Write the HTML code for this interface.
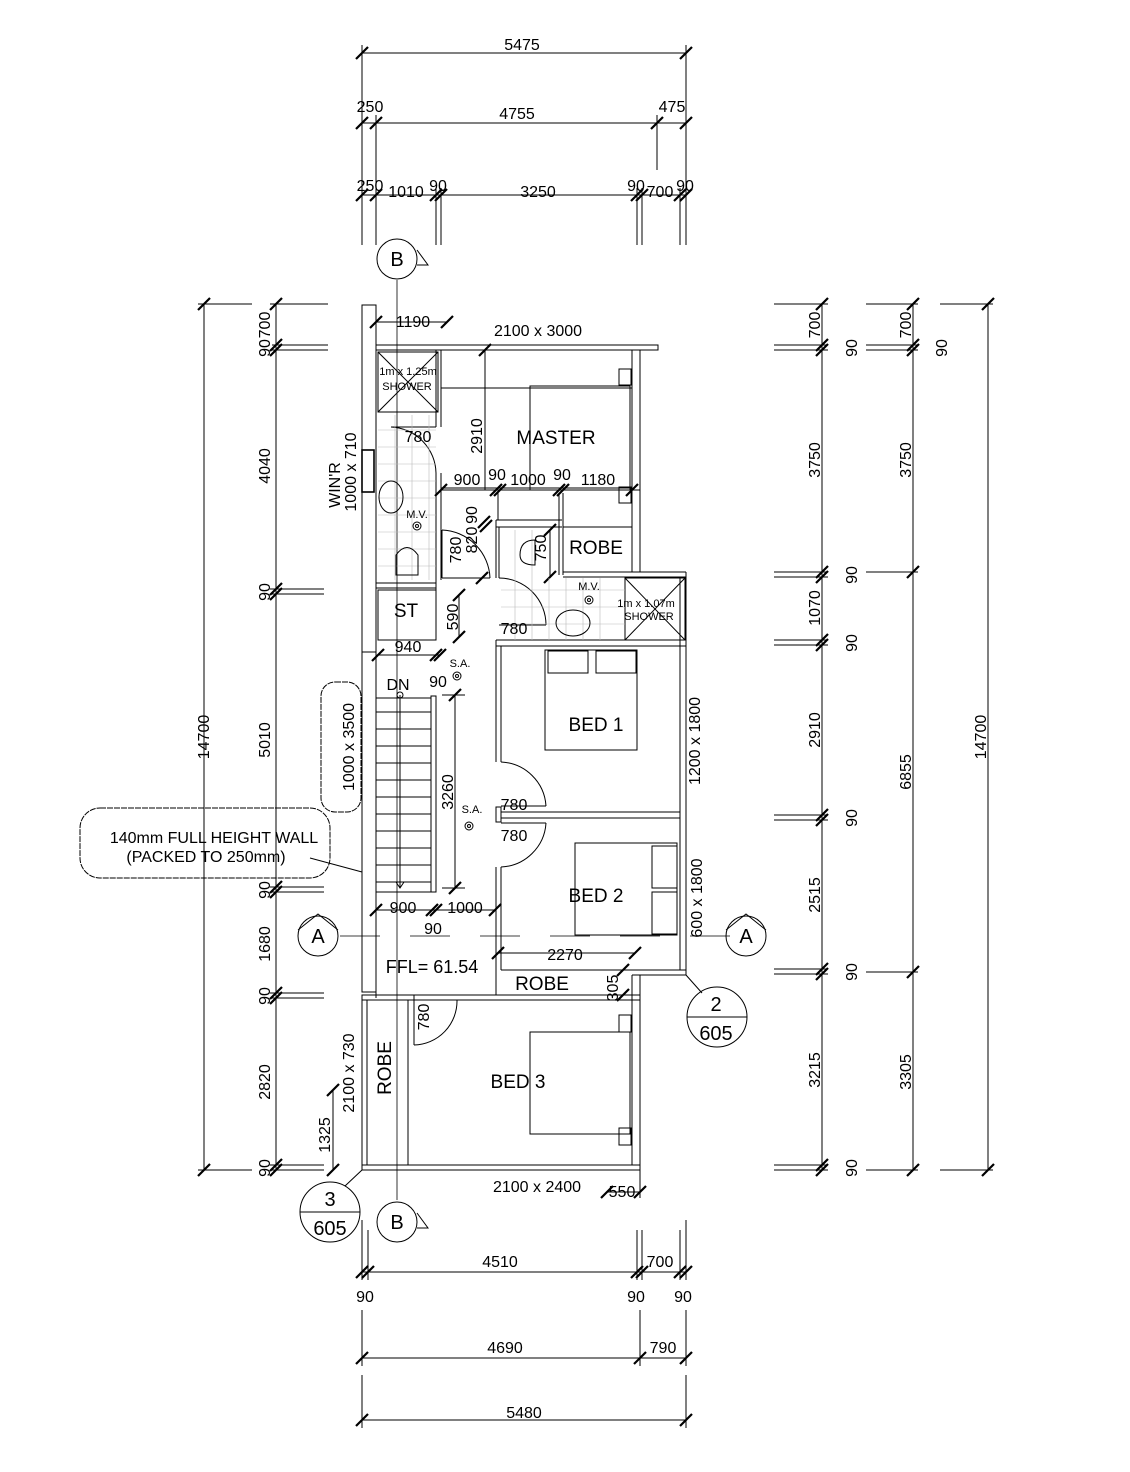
<!DOCTYPE html><html><head><meta charset="utf-8"><style>body{margin:0;background:#fff}svg{display:block}text{font-family:"Liberation Sans",sans-serif;fill:#000}</style></head><body>
<svg width="1130" height="1472" viewBox="0 0 1130 1472" xmlns="http://www.w3.org/2000/svg">
<defs><path id="t" d="M-6,6 L6,-6" stroke="#000" stroke-width="2.2"/></defs>
<g stroke="#000" stroke-width="1" fill="none">
<line x1="362" y1="53" x2="686" y2="53"/><line x1="362" y1="45" x2="362" y2="245"/><line x1="686" y1="45" x2="686" y2="245"/>
<line x1="362" y1="123" x2="686" y2="123"/><line x1="376" y1="115" x2="376" y2="245"/><line x1="657" y1="115" x2="657" y2="170"/>
<line x1="362" y1="195" x2="686" y2="195"/><line x1="436" y1="188" x2="436" y2="245"/><line x1="441" y1="188" x2="441" y2="245"/><line x1="637" y1="188" x2="637" y2="245"/><line x1="642" y1="188" x2="642" y2="245"/><line x1="680" y1="188" x2="680" y2="245"/>
<line x1="362" y1="1272" x2="686" y2="1272"/><line x1="362" y1="1220" x2="362" y2="1280"/><line x1="686" y1="1220" x2="686" y2="1280"/><line x1="368" y1="1230" x2="368" y2="1280"/><line x1="637" y1="1230" x2="637" y2="1280"/><line x1="642" y1="1230" x2="642" y2="1280"/><line x1="680" y1="1230" x2="680" y2="1280"/>
<line x1="362" y1="1358" x2="686" y2="1358"/><line x1="362" y1="1310" x2="362" y2="1366"/><line x1="640" y1="1310" x2="640" y2="1366"/><line x1="686" y1="1310" x2="686" y2="1366"/>
<line x1="362" y1="1420" x2="686" y2="1420"/><line x1="362" y1="1375" x2="362" y2="1428"/><line x1="686" y1="1375" x2="686" y2="1428"/>
<line x1="204" y1="304" x2="204" y2="1170"/><line x1="276" y1="304" x2="276" y2="1170"/>
<line x1="198" y1="304" x2="252" y2="304"/><line x1="270" y1="304" x2="328" y2="304"/>
<line x1="272" y1="345" x2="328" y2="345"/><line x1="272" y1="350" x2="328" y2="350"/>
<line x1="270" y1="589" x2="324" y2="589"/><line x1="270" y1="594" x2="324" y2="594"/>
<line x1="270" y1="887" x2="324" y2="887"/><line x1="270" y1="892" x2="324" y2="892"/>
<line x1="270" y1="993" x2="324" y2="993"/><line x1="270" y1="998" x2="324" y2="998"/>
<line x1="198" y1="1170" x2="252" y2="1170"/><line x1="270" y1="1170" x2="324" y2="1170"/><line x1="270" y1="1165" x2="324" y2="1165"/>
<line x1="333" y1="1090" x2="333" y2="1170"/>
<line x1="822" y1="304" x2="822" y2="1170"/><line x1="913" y1="304" x2="913" y2="1170"/><line x1="988" y1="304" x2="988" y2="1170"/>
<line x1="774" y1="304" x2="828" y2="304"/><line x1="866" y1="304" x2="918" y2="304"/><line x1="940" y1="304" x2="993" y2="304"/>
<line x1="774" y1="345" x2="828" y2="345"/><line x1="774" y1="350" x2="828" y2="350"/><line x1="866" y1="345" x2="918" y2="345"/><line x1="866" y1="350" x2="918" y2="350"/>
<line x1="774" y1="572" x2="828" y2="572"/><line x1="774" y1="577" x2="828" y2="577"/><line x1="866" y1="572" x2="918" y2="572"/>
<line x1="774" y1="640" x2="828" y2="640"/><line x1="774" y1="645" x2="828" y2="645"/>
<line x1="774" y1="815" x2="828" y2="815"/><line x1="774" y1="820" x2="828" y2="820"/>
<line x1="774" y1="969" x2="828" y2="969"/><line x1="774" y1="974" x2="828" y2="974"/><line x1="866" y1="972" x2="918" y2="972"/>
<line x1="774" y1="1165" x2="828" y2="1165"/><line x1="774" y1="1170" x2="828" y2="1170"/><line x1="866" y1="1170" x2="918" y2="1170"/><line x1="940" y1="1170" x2="993" y2="1170"/>
<line x1="397" y1="280" x2="397" y2="1200" stroke-width="0.8"/>
<line x1="340" y1="936" x2="730" y2="936" stroke-dasharray="40,30" stroke-width="0.8"/>
</g>
<g>
<use href="#t" x="362" y="53"/><use href="#t" x="686" y="53"/>
<use href="#t" x="362" y="123"/><use href="#t" x="376" y="123"/><use href="#t" x="657" y="123"/><use href="#t" x="686" y="123"/>
<use href="#t" x="362" y="195"/><use href="#t" x="376" y="195"/><use href="#t" x="436" y="195"/><use href="#t" x="441" y="195"/><use href="#t" x="637" y="195"/><use href="#t" x="642" y="195"/><use href="#t" x="680" y="195"/><use href="#t" x="686" y="195"/>
<use href="#t" x="362" y="1272"/><use href="#t" x="368" y="1272"/><use href="#t" x="637" y="1272"/><use href="#t" x="642" y="1272"/><use href="#t" x="680" y="1272"/><use href="#t" x="686" y="1272"/>
<use href="#t" x="362" y="1358"/><use href="#t" x="640" y="1358"/><use href="#t" x="686" y="1358"/><use href="#t" x="362" y="1420"/><use href="#t" x="686" y="1420"/>
<use href="#t" x="204" y="304"/><use href="#t" x="204" y="1170"/>
<use href="#t" x="276" y="304"/><use href="#t" x="276" y="345"/><use href="#t" x="276" y="350"/><use href="#t" x="276" y="589"/><use href="#t" x="276" y="594"/><use href="#t" x="276" y="887"/><use href="#t" x="276" y="892"/><use href="#t" x="276" y="993"/><use href="#t" x="276" y="998"/><use href="#t" x="276" y="1165"/><use href="#t" x="276" y="1170"/>
<use href="#t" x="333" y="1090"/><use href="#t" x="333" y="1170"/>
<use href="#t" x="822" y="304"/><use href="#t" x="822" y="345"/><use href="#t" x="822" y="350"/><use href="#t" x="822" y="572"/><use href="#t" x="822" y="577"/><use href="#t" x="822" y="640"/><use href="#t" x="822" y="645"/><use href="#t" x="822" y="815"/><use href="#t" x="822" y="820"/><use href="#t" x="822" y="969"/><use href="#t" x="822" y="974"/><use href="#t" x="822" y="1165"/><use href="#t" x="822" y="1170"/>
<use href="#t" x="913" y="304"/><use href="#t" x="913" y="345"/><use href="#t" x="913" y="350"/><use href="#t" x="913" y="572"/><use href="#t" x="913" y="972"/><use href="#t" x="913" y="1170"/>
<use href="#t" x="988" y="304"/><use href="#t" x="988" y="1170"/>
<use href="#t" x="376" y="322"/><use href="#t" x="447" y="322"/><use href="#t" x="485" y="350"/>
<use href="#t" x="441" y="490"/><use href="#t" x="496" y="490"/><use href="#t" x="500" y="490"/><use href="#t" x="559" y="490"/><use href="#t" x="563" y="490"/><use href="#t" x="632" y="490"/>
<use href="#t" x="484" y="522"/><use href="#t" x="486" y="526"/><use href="#t" x="550" y="530"/><use href="#t" x="550" y="577"/><use href="#t" x="482" y="578"/>
<use href="#t" x="459" y="595"/><use href="#t" x="459" y="637"/>
<use href="#t" x="378" y="655"/><use href="#t" x="436" y="655"/><use href="#t" x="440" y="655"/>
<use href="#t" x="455" y="695"/><use href="#t" x="455" y="888"/>
<use href="#t" x="376" y="910"/><use href="#t" x="432" y="910"/><use href="#t" x="436" y="910"/><use href="#t" x="495" y="910"/>
<use href="#t" x="498" y="953"/><use href="#t" x="635" y="953"/><use href="#t" x="623" y="970"/><use href="#t" x="623" y="995"/>
<use href="#t" x="607" y="1192"/><use href="#t" x="640" y="1192"/>
</g>
<g stroke="#000" stroke-width="1" fill="none">
<line x1="376" y1="322" x2="447" y2="322"/><line x1="485" y1="350" x2="485" y2="490"/>
<line x1="441" y1="490" x2="640" y2="490"/><line x1="550" y1="530" x2="550" y2="577"/>
<line x1="459" y1="595" x2="459" y2="637"/><line x1="378" y1="655" x2="440" y2="655"/>
<line x1="455" y1="695" x2="455" y2="888"/><line x1="442" y1="695" x2="465" y2="695"/><line x1="442" y1="888" x2="465" y2="888"/>
<line x1="376" y1="910" x2="495" y2="910"/><line x1="498" y1="953" x2="635" y2="953"/>
<line x1="607" y1="1192" x2="640" y2="1192"/><line x1="640" y1="1170" x2="640" y2="1198"/>
<rect x="362" y="305" width="14" height="347"/><rect x="362" y="652" width="14" height="340"/>
<rect x="362" y="450" width="12" height="42" stroke-width="1.6"/>
<rect x="376" y="345" width="282" height="5"/>
<line x1="632" y1="350" x2="632" y2="572"/><line x1="640" y1="350" x2="640" y2="572"/>
<rect x="378" y="352" width="60" height="60"/><line x1="378" y1="352" x2="438" y2="412"/><line x1="438" y1="352" x2="378" y2="412"/>
<line x1="436" y1="350" x2="436" y2="427"/><line x1="441" y1="350" x2="441" y2="427"/>
<line x1="436" y1="473" x2="436" y2="640"/><line x1="441" y1="473" x2="441" y2="580"/>
<path d="M436,473 A47,47 0 0 0 391,427"/><line x1="391" y1="427" x2="436" y2="427"/>
<line x1="441" y1="388" x2="632" y2="388"/>
<rect x="530" y="386" width="100" height="104"/><rect x="619" y="369" width="12" height="16"/><rect x="619" y="487" width="12" height="16"/>
<line x1="441" y1="488" x2="632" y2="488"/>
<line x1="496" y1="520" x2="562" y2="520"/><line x1="496" y1="527" x2="562" y2="527"/>
<line x1="496" y1="520" x2="496" y2="578"/><line x1="499" y1="527" x2="499" y2="578"/>
<line x1="498" y1="493" x2="498" y2="520"/><line x1="559" y1="493" x2="559" y2="575"/><line x1="563" y1="493" x2="563" y2="575"/>
<line x1="563" y1="527" x2="632" y2="527"/><line x1="563" y1="572" x2="686" y2="572"/><line x1="563" y1="577" x2="686" y2="577"/>
<path d="M442,530 A50,50 0 0 1 490,578"/><line x1="442" y1="578" x2="490" y2="578"/><line x1="442" y1="530" x2="442" y2="578"/>
<path d="M499,578 A47,47 0 0 1 546,625"/><line x1="499" y1="625" x2="546" y2="625"/>
<rect x="625" y="578" width="60" height="62"/><line x1="625" y1="578" x2="685" y2="640"/><line x1="685" y1="578" x2="625" y2="640"/>
<line x1="686" y1="572" x2="686" y2="975"/><line x1="680" y1="577" x2="680" y2="970"/>
<rect x="378" y="590" width="58" height="50"/><line x1="376" y1="583" x2="436" y2="583"/><line x1="376" y1="588" x2="436" y2="588"/>
<line x1="496" y1="640" x2="686" y2="640"/><line x1="496" y1="646" x2="686" y2="646"/>
<line x1="496" y1="640" x2="496" y2="762"/><line x1="501" y1="646" x2="501" y2="762"/>
<rect x="545" y="650" width="92" height="100"/><rect x="548" y="651" width="40" height="22"/><rect x="596" y="651" width="40" height="22"/>
<path d="M501,762 A47,47 0 0 1 546,806"/><line x1="501" y1="806" x2="546" y2="806"/>
<rect x="496" y="807" width="5" height="15"/>
<line x1="501" y1="812" x2="680" y2="812"/><line x1="501" y1="818" x2="680" y2="818"/>
<path d="M546,823 A47,47 0 0 1 501,867"/><line x1="501" y1="823" x2="546" y2="823"/>
<line x1="496" y1="867" x2="496" y2="995"/><line x1="501" y1="867" x2="501" y2="970"/>
<rect x="575" y="843" width="102" height="92"/><rect x="652" y="846" width="25" height="42"/><rect x="652" y="892" width="25" height="42"/>
<line x1="501" y1="970" x2="686" y2="970"/><line x1="632" y1="975" x2="686" y2="975"/>
<line x1="632" y1="975" x2="632" y2="1165"/><line x1="640" y1="975" x2="640" y2="1170"/>
<rect x="376" y="698" width="55" height="194"/><rect x="431" y="696" width="5" height="196"/>
<line x1="376" y1="712" x2="431" y2="712"/><line x1="376" y1="729" x2="431" y2="729"/><line x1="376" y1="746" x2="431" y2="746"/><line x1="376" y1="763" x2="431" y2="763"/><line x1="376" y1="780" x2="431" y2="780"/><line x1="376" y1="797" x2="431" y2="797"/><line x1="376" y1="814" x2="431" y2="814"/><line x1="376" y1="831" x2="431" y2="831"/><line x1="376" y1="848" x2="431" y2="848"/><line x1="376" y1="865" x2="431" y2="865"/><line x1="376" y1="882" x2="431" y2="882"/>
<line x1="400" y1="695" x2="400" y2="888"/><path d="M396,882 L400,888 L404,882"/><circle cx="400" cy="695" r="3"/>
<line x1="376" y1="652" x2="376" y2="998"/>
<rect x="362" y="995" width="278" height="5"/><rect x="362" y="1165" width="278" height="5"/>
<line x1="362" y1="998" x2="362" y2="1170"/><line x1="367" y1="1000" x2="367" y2="1165"/>
<line x1="408" y1="1000" x2="408" y2="1165"/>
<line x1="414" y1="995" x2="414" y2="1045"/>
<path d="M457,1000 A44,44 0 0 1 414,1045"/>
<rect x="530" y="1032" width="100" height="102"/><rect x="619" y="1015" width="12" height="17"/><rect x="619" y="1128" width="12" height="17"/>
<g stroke="#bbb" stroke-width="0.6">
<line x1="378" y1="430" x2="436" y2="430"/><line x1="378" y1="447" x2="436" y2="447"/><line x1="378" y1="464" x2="436" y2="464"/><line x1="378" y1="481" x2="436" y2="481"/><line x1="378" y1="498" x2="436" y2="498"/><line x1="378" y1="515" x2="436" y2="515"/><line x1="378" y1="532" x2="436" y2="532"/><line x1="378" y1="549" x2="436" y2="549"/><line x1="378" y1="566" x2="436" y2="566"/>
<line x1="395" y1="415" x2="395" y2="580"/><line x1="412" y1="415" x2="412" y2="580"/><line x1="429" y1="415" x2="429" y2="580"/>
<line x1="501" y1="590" x2="625" y2="590"/><line x1="501" y1="607" x2="625" y2="607"/><line x1="501" y1="624" x2="625" y2="624"/>
<line x1="515" y1="530" x2="515" y2="640"/><line x1="532" y1="530" x2="532" y2="640"/><line x1="549" y1="578" x2="549" y2="640"/><line x1="566" y1="578" x2="566" y2="640"/><line x1="583" y1="578" x2="583" y2="640"/><line x1="600" y1="578" x2="600" y2="640"/>
</g>
<ellipse cx="391" cy="497" rx="12" ry="16"/><ellipse cx="573" cy="623" rx="17" ry="13"/>
<path d="M396,575 L396,555 Q407,540 418,555 L418,575 Z"/><path d="M520,555 Q520,540 535,540 L535,565 Q520,565 520,555 Z"/>
<circle cx="417" cy="526" r="4"/><circle cx="417" cy="526" r="1.5"/><circle cx="589" cy="600" r="4"/><circle cx="589" cy="600" r="1.5"/>
<circle cx="457" cy="676" r="4"/><circle cx="457" cy="676" r="1.5"/><circle cx="469" cy="826" r="4"/><circle cx="469" cy="826" r="1.5"/>
<rect x="321" y="682" width="40" height="130" rx="14" stroke-dasharray="6,1"/>
<rect x="80" y="808" width="250" height="70" rx="20" stroke-dasharray="6,1"/>
<line x1="310" y1="858" x2="362" y2="872"/>
<circle cx="397" cy="259" r="20"/><path d="M417,250 L428,265 L417,265"/>
<circle cx="397" cy="1222" r="20"/><path d="M417,1213 L428,1228 L417,1228"/>
<circle cx="318" cy="936" r="20"/><path d="M298,930 L318,914 L338,930"/>
<circle cx="746" cy="936" r="20"/><path d="M726,930 L746,914 L766,930"/>
<circle cx="717" cy="1017" r="30"/><line x1="687" y1="1017" x2="747" y2="1017"/><line x1="686" y1="975" x2="702" y2="993"/>
<circle cx="330" cy="1212" r="30"/><line x1="300" y1="1212" x2="360" y2="1212"/><line x1="345" y1="1186" x2="362" y2="1170"/>
</g>
<g font-size="16" text-anchor="middle">
<text x="522" y="50">5475</text><text x="370" y="112">250</text><text x="517" y="119">4755</text><text x="672" y="112">475</text>
<text x="370" y="191">250</text><text x="406" y="197">1010</text><text x="438" y="191">90</text><text x="538" y="197">3250</text><text x="636" y="191">90</text><text x="660" y="197">700</text><text x="685" y="191">90</text>
<text x="500" y="1267">4510</text><text x="660" y="1267">700</text><text x="365" y="1302">90</text><text x="636" y="1302">90</text><text x="683" y="1302">90</text>
<text x="505" y="1353">4690</text><text x="663" y="1353">790</text><text x="524" y="1418">5480</text>
<text x="397" y="266" font-size="20">B</text><text x="397" y="1229" font-size="20">B</text><text x="318" y="943" font-size="20">A</text><text x="746" y="943" font-size="20">A</text>
<text x="716" y="1011" font-size="20">2</text><text x="716" y="1040" font-size="20">605</text><text x="330" y="1206" font-size="20">3</text><text x="330" y="1235" font-size="20">605</text>
<text x="413" y="327">1190</text><text x="538" y="336">2100 x 3000</text>
<text x="556" y="444" font-size="19">MASTER</text><text x="418" y="442">780</text>
<text x="467" y="485">900</text><text x="497" y="480">90</text><text x="528" y="485">1000</text><text x="562" y="480">90</text><text x="598" y="485">1180</text>
<text x="596" y="554" font-size="19">ROBE</text><text x="406" y="617" font-size="19">ST</text><text x="408" y="652">940</text>
<text x="514" y="634">780</text><text x="398" y="690">DN</text><text x="438" y="687">90</text>
<text x="596" y="731" font-size="19">BED 1</text><text x="514" y="810">780</text><text x="514" y="841">780</text>
<text x="596" y="902" font-size="19">BED 2</text><text x="403" y="913">900</text><text x="465" y="913">1000</text><text x="433" y="934">90</text>
<text x="565" y="960">2270</text><text x="432" y="973" font-size="18">FFL= 61.54</text>
<text x="542" y="990" font-size="19">ROBE</text><text x="518" y="1088" font-size="19">BED 3</text>
<text x="537" y="1192">2100 x 2400</text><text x="622" y="1197">550</text>
<text x="214" y="843">140mm FULL HEIGHT WALL</text><text x="206" y="862">(PACKED TO 250mm)</text>
<text x="408" y="375" font-size="11">1m x 1.25m</text><text x="407" y="390" font-size="11">SHOWER</text>
<text x="646" y="607" font-size="11">1m x 1.07m</text><text x="649" y="620" font-size="11">SHOWER</text>
<text x="417" y="518" font-size="11">M.V.</text><text x="589" y="590" font-size="11">M.V.</text>
<text x="460" y="667" font-size="11">S.A.</text><text x="472" y="813" font-size="11">S.A.</text>
</g>
<g font-size="16" text-anchor="middle">
<text transform="translate(209,737) rotate(-90)">14700</text>
<text transform="translate(270,325) rotate(-90)">700</text><text transform="translate(270,348) rotate(-90)">90</text><text transform="translate(270,466) rotate(-90)">4040</text><text transform="translate(270,592) rotate(-90)">90</text><text transform="translate(270,740) rotate(-90)">5010</text><text transform="translate(270,890) rotate(-90)">90</text><text transform="translate(270,944) rotate(-90)">1680</text><text transform="translate(270,996) rotate(-90)">90</text><text transform="translate(270,1082) rotate(-90)">2820</text><text transform="translate(270,1168) rotate(-90)">90</text>
<text transform="translate(330,1135) rotate(-90)">1325</text>
<text transform="translate(820,325) rotate(-90)">700</text><text transform="translate(857,348) rotate(-90)">90</text><text transform="translate(820,460) rotate(-90)">3750</text><text transform="translate(857,575) rotate(-90)">90</text><text transform="translate(820,608) rotate(-90)">1070</text><text transform="translate(857,643) rotate(-90)">90</text><text transform="translate(820,730) rotate(-90)">2910</text><text transform="translate(857,818) rotate(-90)">90</text><text transform="translate(820,895) rotate(-90)">2515</text><text transform="translate(857,972) rotate(-90)">90</text><text transform="translate(820,1070) rotate(-90)">3215</text><text transform="translate(857,1168) rotate(-90)">90</text>
<text transform="translate(911,325) rotate(-90)">700</text><text transform="translate(947,348) rotate(-90)">90</text><text transform="translate(911,460) rotate(-90)">3750</text><text transform="translate(911,772) rotate(-90)">6855</text><text transform="translate(911,1072) rotate(-90)">3305</text>
<text transform="translate(986,737) rotate(-90)">14700</text>
<text transform="translate(340,485) rotate(-90)">WIN'R</text><text transform="translate(356,472) rotate(-90)">1000 x 710</text>
<text transform="translate(482,436) rotate(-90)">2910</text><text transform="translate(461,550) rotate(-90)">780</text><text transform="translate(477,540) rotate(-90)">820</text><text transform="translate(477,515) rotate(-90)">90</text>
<text transform="translate(546,548) rotate(-90)">750</text><text transform="translate(458,617) rotate(-90)">590</text>
<text transform="translate(354,747) rotate(-90)">1000 x 3500</text><text transform="translate(453,792) rotate(-90)">3260</text>
<text transform="translate(700,741) rotate(-90)">1200 x 1800</text><text transform="translate(702,898) rotate(-90)">600 x 1800</text>
<text transform="translate(618,988) rotate(-90)">305</text><text transform="translate(429,1017) rotate(-90)">780</text>
<text transform="translate(354,1073) rotate(-90)">2100 x 730</text><text transform="translate(391,1068) rotate(-90)" font-size="19">ROBE</text>
</g>
</svg></body></html>
